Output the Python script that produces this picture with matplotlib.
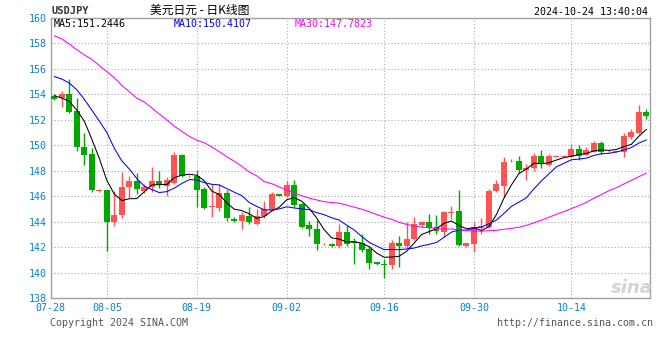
import numpy as np
import pandas as pd
import matplotlib
matplotlib.use("Agg")
import matplotlib.pyplot as plt

# USDJPY daily candles, first candle = 07-28, last = 10-24
opens = [153.9, 153.7, 154.05, 152.7, 149.9, 149.3, 146.4, 146.5, 144.0, 144.5,
         146.7, 147.2, 146.4, 146.7, 147.2, 146.8, 147.05, 149.27, 147.55, 147.6,
         146.55, 145.12, 145.1, 146.25, 144.2, 144.05, 144.45, 143.85, 144.45, 144.95,
         146.15, 146.0, 146.88, 145.4, 143.7, 143.45, 142.22, 142.23, 142.1, 143.15,
         142.45, 142.29, 141.82, 140.8, 140.7, 140.6, 142.36, 142.08, 142.62, 143.72,
         143.97, 143.58, 143.2, 144.68, 144.8, 142.08, 142.22, 143.5, 143.6, 146.38,
         146.8, 148.75, 148.78, 148.08, 148.2, 149.17, 148.47, 149.1, 149.1, 149.09,
         149.74, 149.25, 149.5, 150.16, 149.52, 149.48, 149.48, 150.65, 150.96, 152.65]
highs = [154.0, 154.3, 155.2, 153.75, 150.95, 149.75, 146.6, 146.5, 146.4, 147.9,
         147.6, 147.8, 146.95, 148.3, 148.0, 147.5, 149.45, 149.3, 147.7, 148.05,
         146.7, 146.95, 146.95, 146.5, 144.4, 144.75, 145.15, 145.0, 145.6, 146.3,
         146.2, 147.22, 147.3, 145.5, 144.03, 144.1, 142.3, 142.3, 143.84, 143.7,
         142.75, 143.03, 142.0, 140.85, 141.1, 142.55, 142.9, 143.96, 144.4, 144.05,
         144.6, 144.55, 144.85, 145.25, 146.5, 142.35, 143.97, 144.3, 146.6, 147.3,
         149.04, 148.9, 149.17, 148.52, 149.43, 149.64, 149.32, 149.2, 149.2, 150.0,
         150.0, 149.84, 150.34, 150.34, 149.6, 149.55, 150.99, 151.3, 153.2, 152.88]
lows = [153.55, 153.0, 152.5, 149.55, 148.45, 146.35, 146.35, 141.7, 143.65, 144.25,
        145.85, 146.2, 146.25, 146.35, 146.65, 146.05, 146.95, 147.5, 147.5, 145.15,
        145.0, 144.4, 144.8, 144.05, 143.95, 143.4, 143.85, 143.75, 144.3, 144.9,
        146.0, 145.95, 145.15, 143.5, 142.86, 141.77, 142.2, 142.0, 141.9, 142.1,
        140.67, 141.6, 140.27, 140.6, 139.58, 140.3, 140.42, 141.95, 142.55, 143.6,
        143.05, 143.0, 142.8, 144.2, 142.1, 142.0, 141.6, 143.0, 143.5, 146.3,
        145.9, 148.68, 147.82, 147.3, 148.0, 148.2, 148.39, 149.05, 149.05, 149.05,
        148.83, 149.2, 149.45, 149.35, 149.48, 149.45, 149.1, 150.52, 150.9, 152.03]
closes = [153.6, 154.05, 152.6, 149.9, 149.25, 146.5, 146.5, 144.0, 144.55, 146.75,
          147.2, 146.55, 146.7, 147.2, 146.9, 147.25, 149.27, 147.6, 147.6, 146.5,
          145.1, 145.2, 146.25, 144.3, 144.05, 144.55, 143.95, 144.45, 145.0, 146.2,
          146.05, 146.88, 145.32, 143.6, 143.4, 142.25, 142.28, 142.08, 143.15, 142.25,
          142.3, 141.77, 140.72, 140.65, 140.58, 142.36, 142.08, 142.67, 143.84, 143.97,
          143.5, 143.25, 144.76, 144.78, 142.16, 142.29, 143.6, 143.62, 146.38, 146.92,
          148.68, 148.8, 148.08, 148.2, 149.17, 148.52, 149.17, 149.13, 149.13, 149.74,
          149.17, 149.6, 150.16, 149.5, 149.56, 149.52, 150.73, 151.04, 152.65, 152.29]

# MA values on the left, before enough candles are on screen
ma5_lead = [153.9, 153.7, 153.45, 152.75]
ma10_lead = [155.4, 155.2, 154.88, 154.35, 153.6, 152.75, 151.9, 151.0, 149.75]
ma30_lead = [158.6, 158.35, 157.95, 157.5, 157.1, 156.75, 156.26, 155.78, 155.3, 154.7,
             154.2, 153.7, 153.4, 152.93, 152.45, 152.0, 151.5, 151.1, 150.7, 150.4,
             150.2, 149.87, 149.5, 149.1, 148.75, 148.35, 147.9, 147.6, 147.15]

date_labels = ["07-28", "08-05", "08-19", "09-02", "09-16", "09-30", "10-14"]
date_index = [-0.5, 7, 19, 31, 44, 56, 69]

RED = "#ff5252"
GREEN = "#00a800"
BLUE_TXT = "#0a80d2"
MONO = "DejaVu Sans Mono"
W, H = 660, 360


def ma(values, n, lead):
    s = pd.Series(values).rolling(n).mean().to_numpy()
    s[:len(lead)] = lead
    return s


o = np.array(opens)
h = np.array(highs)
l = np.array(lows)
c = np.array(closes)
x = np.arange(len(c))
up = c >= o

fig = plt.figure(figsize=(W / 100, H / 100), dpi=100)
ax = fig.add_axes([50.7 / W, 1 - 298 / H, (650 - 50.7) / W, (298 - 18) / H])

# dotted grid
for v in range(140, 160, 2):
    ax.axhline(v, color="#aaaaaa", lw=0.8, ls=(0, (1, 2)), zorder=0)
for xi in date_index[1:]:
    ax.axvline(xi, color="#aaaaaa", lw=0.8, ls=(0, (1, 2)), zorder=0)

# candles: red = up, green = down
cols = np.where(up, RED, GREEN)
ax.vlines(x, l, h, colors=cols, lw=1, zorder=2)
body = np.maximum(np.abs(c - o), 0.05)
ax.bar(x, body, bottom=np.minimum(o, c), width=0.8, color=cols, linewidth=0, zorder=3)

# moving averages
ax.plot(x, ma(c, 5, ma5_lead), color="black", lw=0.75, zorder=4)
ax.plot(x, ma(c, 10, ma10_lead), color="#0000ff", lw=0.75, zorder=4)
ax.plot(x, ma(c, 30, ma30_lead), color="#ff00ff", lw=0.75, zorder=4)

ax.set_xlim(-0.5, len(c) - 0.5)
ax.set_ylim(138, 160)
ax.set_yticks(range(138, 161, 2))
ax.set_yticklabels([str(v) for v in range(138, 161, 2)], color=BLUE_TXT,
                   fontsize=7.2, family=MONO)
ax.set_xticks(date_index)
ax.set_xticklabels(date_labels, color=BLUE_TXT, fontsize=7.2, family=MONO)
ax.tick_params(axis="y", length=0, pad=3)
ax.tick_params(axis="x", length=0, pad=3.5)
for sp in ax.spines.values():
    sp.set_color("#a0a0a0")
    sp.set_linewidth(1)

# MA legend along the top of the plot
fig.text(54 / W, 1 - 24 / H, "MA5:151.2446", color="black", fontsize=7.2,
         family=MONO, va="center")
fig.text(174 / W, 1 - 24 / H, "MA10:150.4107", color="#0000ff", fontsize=7.2,
         family=MONO, va="center")
fig.text(295 / W, 1 - 24 / H, "MA30:147.7823", color="#ff00ff", fontsize=7.2,
         family=MONO, va="center")

# header
fig.text(51 / W, 1 - 11 / H, "USDJPY", color="#333333", fontsize=7.5,
         family=MONO, weight="bold", va="center")
fig.text(200 / W, 1 - 10 / H, "美元日元 - 日K线图", color="black", fontsize=8.5,
         family=["Noto Sans CJK SC", "DejaVu Sans"], ha="center", va="center")
fig.text(648 / W, 1 - 12 / H, "2024-10-24 13:40:04", color="black", fontsize=7.2,
         family=MONO, ha="right", va="center")

# footer
fig.text(50 / W, 1 - 323 / H, "Copyright 2024 SINA.COM", color="#555555",
         fontsize=7.2, family=MONO, va="center")
fig.text(653 / W, 1 - 323 / H, "http://finance.sina.com.cn", color="#555555",
         fontsize=7.2, family=MONO, ha="right", va="center")

# watermark
fig.text(632 / W, 1 - 288 / H, "sina", color="#d4d4d4", fontsize=13,
         style="italic", weight="bold", ha="center", va="center")

fig.savefig("out.png", dpi=100)
